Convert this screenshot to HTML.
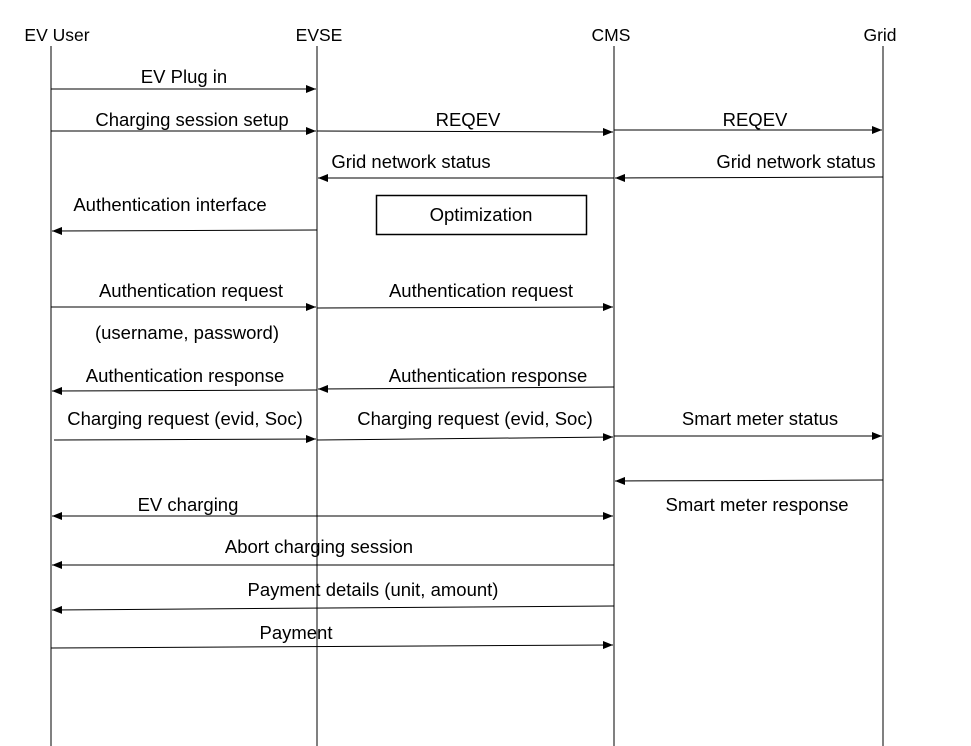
<!DOCTYPE html>
<html><head><meta charset="utf-8"><style>
html,body{margin:0;padding:0;background:#fff;}
svg{display:block;}
text{font-family:"Liberation Sans",sans-serif;font-size:18.5px;fill:#000;text-anchor:middle;}
.h{font-size:17.5px;}
</style></head><body>
<svg width="971" height="746" viewBox="0 0 971 746" xmlns="http://www.w3.org/2000/svg">
<defs>
<marker id="a" markerWidth="10" markerHeight="8" refX="10" refY="4" orient="auto" markerUnits="userSpaceOnUse">
<path d="M0,0 L10,4 L0,8 z" fill="#000"/></marker>
<marker id="s" markerWidth="10" markerHeight="8" refX="0" refY="4" orient="auto" markerUnits="userSpaceOnUse">
<path d="M10,0 L0,4 L10,8 z" fill="#000"/></marker>
</defs>
<g stroke="#000" stroke-width="1">
<line x1="51" y1="46" x2="51" y2="746"/>
<line x1="317" y1="46" x2="317" y2="746"/>
<line x1="614" y1="46" x2="614" y2="746"/>
<line x1="883" y1="46" x2="883" y2="746"/>
</g>
<text class="h" x="57" y="41">EV User</text>
<text class="h" x="319" y="41">EVSE</text>
<text class="h" x="611" y="41">CMS</text>
<text class="h" x="880" y="41">Grid</text>
<g stroke="#000" stroke-width="1" marker-end="url(#a)">
<line x1="51" y1="89" x2="316" y2="89"/>
<line x1="51" y1="131" x2="316" y2="131"/>
<line x1="317" y1="131" x2="613" y2="132"/>
<line x1="614" y1="130" x2="882" y2="130"/>
<line x1="614" y1="178" x2="318" y2="178"/>
<line x1="883" y1="177" x2="615" y2="178"/>
<line x1="317" y1="230" x2="52" y2="231"/>
<line x1="51" y1="307" x2="316" y2="307"/>
<line x1="317" y1="308" x2="613" y2="307"/>
<line x1="317" y1="390" x2="52" y2="391"/>
<line x1="614" y1="387" x2="318" y2="389"/>
<line x1="54" y1="440" x2="316" y2="439"/>
<line x1="317" y1="440" x2="613" y2="437"/>
<line x1="614" y1="436" x2="882" y2="436"/>
<line x1="883" y1="480" x2="615" y2="481"/>
<line x1="614" y1="565" x2="52" y2="565"/>
<line x1="614" y1="606" x2="52" y2="610"/>
<line x1="51" y1="648" x2="613" y2="645"/>
</g>
<line x1="52" y1="516" x2="613" y2="516" stroke="#000" marker-end="url(#a)" marker-start="url(#s)"/>
<rect x="376.5" y="195.5" width="210" height="39" fill="none" stroke="#000" stroke-width="1.5"/>
<text x="481" y="221">Optimization</text>
<text x="184" y="83">EV Plug in</text>
<text x="192" y="126">Charging session setup</text>
<text x="468" y="126">REQEV</text>
<text x="755" y="126">REQEV</text>
<text x="411" y="168">Grid network status</text>
<text x="796" y="168">Grid network status</text>
<text x="170" y="211">Authentication interface</text>
<text x="191" y="297">Authentication request</text>
<text x="481" y="297">Authentication request</text>
<text x="187" y="339">(username, password)</text>
<text x="185" y="382">Authentication response</text>
<text x="488" y="382">Authentication response</text>
<text x="185" y="425">Charging request (evid, Soc)</text>
<text x="475" y="425">Charging request (evid, Soc)</text>
<text x="760" y="425">Smart meter status</text>
<text x="757" y="511">Smart meter response</text>
<text x="188" y="511">EV charging</text>
<text x="319" y="553">Abort charging session</text>
<text x="373" y="596">Payment details (unit, amount)</text>
<text x="296" y="639">Payment</text>
</svg>
</body></html>
